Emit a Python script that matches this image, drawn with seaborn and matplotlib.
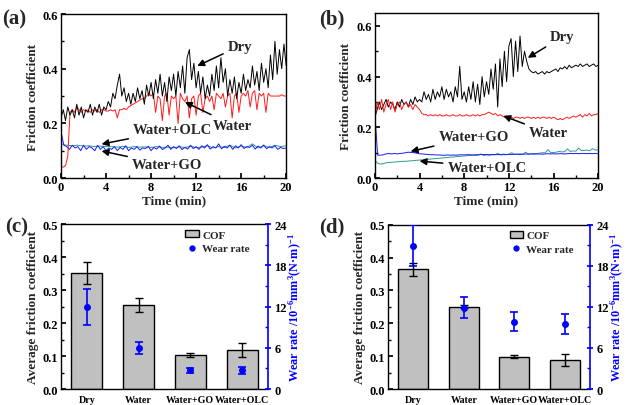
import numpy as np
import pandas as pd
import matplotlib
matplotlib.use("Agg")
import matplotlib.pyplot as plt
import seaborn as sns
from matplotlib.ticker import MultipleLocator, FormatStrFormatter
from matplotlib.patches import Patch
from matplotlib.lines import Line2D

# ---------------- friction traces, panel (a) ----------------
# sampled every 0.2 min
dry_a = [0.22, 0.25, 0.21, 0.26, 0.23, 0.25, 0.22, 0.27, 0.23, 0.26, 0.22, 0.25, 0.24, 0.27, 0.23, 0.26, 0.24, 0.27, 0.23, 0.26, 0.25,
         0.28, 0.26, 0.31, 0.29, 0.34, 0.38, 0.30, 0.33, 0.28, 0.31,
         0.27, 0.31, 0.28, 0.33, 0.29, 0.32, 0.27, 0.34, 0.30, 0.35,
         0.29, 0.36, 0.31, 0.38, 0.30, 0.35, 0.28, 0.37, 0.32, 0.38,
         0.30, 0.39, 0.33, 0.41, 0.31, 0.44, 0.47, 0.36, 0.42, 0.33,
         0.39, 0.31, 0.37, 0.29, 0.34, 0.30, 0.38, 0.32, 0.41, 0.33,
         0.44, 0.35, 0.40, 0.30, 0.36, 0.31, 0.37, 0.29, 0.35, 0.31,
         0.38, 0.32, 0.36, 0.33, 0.41, 0.34, 0.39, 0.32, 0.42, 0.35,
         0.40, 0.33, 0.45, 0.36, 0.50, 0.38, 0.47, 0.40, 0.49, 0.41]
water_a = [0.04, 0.04, 0.045, 0.08, 0.24,
           0.25, 0.24, 0.26, 0.25, 0.24, 0.25, 0.245, 0.25, 0.24, 0.25, 0.245, 0.25, 0.24, 0.25, 0.25, 0.245,
           0.245, 0.25, 0.245, 0.25, 0.22, 0.25, 0.25, 0.255, 0.25, 0.26,
           0.265, 0.27, 0.275, 0.28, 0.285, 0.29, 0.29, 0.30, 0.31, 0.30,
           0.31, 0.24, 0.30, 0.29, 0.21, 0.30, 0.31, 0.23, 0.30, 0.29,
           0.30, 0.20, 0.31, 0.29, 0.28, 0.30, 0.22, 0.29, 0.30, 0.23,
           0.30, 0.31, 0.24, 0.29, 0.30, 0.28, 0.30, 0.25, 0.31, 0.30,
           0.29, 0.31, 0.26, 0.30, 0.31, 0.22, 0.30, 0.31, 0.24, 0.30,
           0.31, 0.30, 0.32, 0.26, 0.31, 0.32, 0.25, 0.31, 0.30, 0.31,
           0.24, 0.31, 0.30, 0.30, 0.30, 0.30, 0.30, 0.305, 0.30, 0.30]
# sampled every 0.25 min
go_a = [0.17, 0.12, 0.115, 0.105, 0.12, 0.11, 0.115, 0.10, 0.12, 0.105, 0.115, 0.11, 0.10, 0.12, 0.105, 0.115, 0.10,
        0.11, 0.105, 0.115, 0.10, 0.112, 0.105, 0.118, 0.10, 0.11, 0.105,
        0.115, 0.102, 0.11, 0.108, 0.116, 0.10, 0.112, 0.106, 0.117, 0.104,
        0.11, 0.12, 0.105, 0.115, 0.108, 0.118, 0.104, 0.112, 0.106, 0.12,
        0.108, 0.115, 0.105, 0.118, 0.11, 0.122, 0.106, 0.115, 0.11, 0.125,
        0.107, 0.116, 0.11, 0.12, 0.105, 0.118, 0.11, 0.122, 0.108, 0.115,
        0.112, 0.12, 0.106, 0.117, 0.11, 0.121, 0.107, 0.115, 0.11, 0.118,
        0.105, 0.112, 0.108, 0.11]
# sampled every 0.5 min
olc_a = [0.125, 0.12, 0.118, 0.12, 0.117, 0.118, 0.115, 0.117, 0.115,
         0.115, 0.113, 0.116, 0.112, 0.115, 0.113, 0.114, 0.112, 0.115, 0.112,
         0.113, 0.111, 0.114, 0.112, 0.116, 0.111, 0.113, 0.118, 0.11, 0.115,
         0.112, 0.12, 0.11, 0.117, 0.112, 0.125, 0.11, 0.118, 0.112, 0.12,
         0.115, 0.118]

# ---------------- friction traces, panel (b) ----------------
dry_b = [0.24, 0.27, 0.30, 0.27, 0.29, 0.31, 0.28, 0.30, 0.29, 0.27, 0.30, 0.28, 0.31, 0.29, 0.30, 0.28, 0.31, 0.29, 0.32, 0.30, 0.31,
         0.30, 0.34, 0.31, 0.33, 0.30, 0.35, 0.31, 0.34, 0.32, 0.36,
         0.31, 0.35, 0.32, 0.34, 0.30, 0.36, 0.32, 0.44, 0.31, 0.34,
         0.30, 0.36, 0.31, 0.38, 0.30, 0.37, 0.29, 0.40, 0.32, 0.38,
         0.33, 0.43, 0.35, 0.45, 0.28, 0.47, 0.36, 0.50, 0.38, 0.52,
         0.55, 0.40, 0.54, 0.42, 0.56, 0.44, 0.50, 0.46, 0.43, 0.42,
         0.415, 0.42, 0.41, 0.415, 0.42, 0.41, 0.42, 0.415, 0.42, 0.425,
         0.43, 0.42, 0.435, 0.43, 0.44, 0.43, 0.445, 0.435, 0.44, 0.445,
         0.44, 0.45, 0.44, 0.445, 0.45, 0.44, 0.445, 0.45, 0.44, 0.445]
water_b = [0.23, 0.30, 0.27, 0.31, 0.26, 0.29, 0.31, 0.27, 0.30, 0.26, 0.29, 0.30, 0.27, 0.29, 0.30, 0.28, 0.29, 0.27, 0.29, 0.28, 0.27,
           0.255, 0.25, 0.25, 0.245, 0.25, 0.245, 0.25, 0.245, 0.25, 0.245,
           0.245, 0.25, 0.245, 0.245, 0.25, 0.245, 0.245, 0.25, 0.245, 0.245,
           0.25, 0.245, 0.245, 0.25, 0.245, 0.25, 0.245, 0.25, 0.25, 0.255,
           0.26, 0.255, 0.25, 0.255, 0.245, 0.25, 0.245, 0.24, 0.245, 0.24,
           0.24, 0.235, 0.24, 0.24, 0.235, 0.24, 0.235, 0.24, 0.24, 0.235,
           0.24, 0.235, 0.24, 0.235, 0.24, 0.24, 0.235, 0.24, 0.235, 0.24,
           0.235, 0.23, 0.235, 0.23, 0.235, 0.24, 0.235, 0.24, 0.245, 0.24,
           0.245, 0.25, 0.24, 0.25, 0.245, 0.255, 0.245, 0.25, 0.25, 0.255]
go_b = [0.25, 0.09, 0.09, 0.092, 0.095, 0.097, 0.095, 0.097, 0.095, 0.097, 0.098, 0.1, 0.102, 0.101, 0.1, 0.098, 0.096,
        0.095, 0.094, 0.093, 0.092, 0.092, 0.091, 0.091, 0.09, 0.09, 0.091,
        0.09, 0.091, 0.09, 0.091, 0.092, 0.091, 0.092, 0.092, 0.091, 0.092,
        0.092, 0.093, 0.092, 0.093, 0.092, 0.093, 0.093, 0.092, 0.093, 0.094,
        0.093, 0.094, 0.093, 0.094, 0.094, 0.093, 0.094, 0.095, 0.094, 0.095,
        0.094, 0.095, 0.095, 0.094, 0.095, 0.096, 0.095, 0.096, 0.095, 0.096,
        0.096, 0.095, 0.096, 0.097, 0.096, 0.097, 0.096, 0.097, 0.097, 0.096,
        0.097, 0.096, 0.097, 0.096]
olc_b = [0.07, 0.058, 0.055, 0.057, 0.06, 0.061, 0.062, 0.063, 0.064, 0.065, 0.066, 0.066, 0.067, 0.068, 0.069, 0.07, 0.071,
         0.072, 0.073, 0.074, 0.075, 0.076, 0.077, 0.078, 0.079, 0.08, 0.081,
         0.082, 0.083, 0.084, 0.085, 0.086, 0.087, 0.088, 0.089, 0.09, 0.089,
         0.09, 0.095, 0.089, 0.091, 0.09, 0.092, 0.091, 0.098, 0.091, 0.092,
         0.092, 0.093, 0.1, 0.093, 0.094, 0.095, 0.094, 0.102, 0.095, 0.096,
         0.097, 0.096, 0.098, 0.1, 0.099, 0.112, 0.1, 0.101, 0.102, 0.105,
         0.103, 0.104, 0.115, 0.105, 0.107, 0.106, 0.118, 0.108, 0.109, 0.11,
         0.108, 0.116, 0.11, 0.112]

# ---------------- averaged results, panels (c) and (d) ----------------
conditions = ["Dry", "Water", "Water+GO", "Water+OLC"]
cof_c = [0.352, 0.255, 0.102, 0.118]
cof_c_err = [0.034, 0.022, 0.006, 0.020]
wear_c = [11.9, 6.0, 2.7, 2.7]
wear_c_err = [2.6, 0.85, 0.4, 0.45]
cof_d = [0.364, 0.250, 0.098, 0.088]
cof_d_err = [0.020, 0.005, 0.005, 0.018]
wear_d = [20.9, 11.9, 9.85, 9.5]
wear_d_err = [3.0, 1.5, 1.35, 1.4]

C_DRY, C_WATER, C_GO, C_OLC = "black", "#ff1a1a", "#1a1aff", "#2e9c88"
BAR_GRAY = "#c0c0c0"

sns.set_theme(style="ticks")
plt.rcParams.update({
    "font.family": ["Liberation Serif", "DejaVu Serif"],
    "font.weight": "bold",
    "axes.labelweight": "bold",
    "mathtext.fontset": "custom",
    "mathtext.rm": "Liberation Serif:bold",
    "mathtext.it": "Liberation Serif:bold:italic",
    "mathtext.bf": "Liberation Serif:bold",
    "mathtext.default": "rm",
    "axes.linewidth": 1.0,
    "axes.edgecolor": "black",
    "xtick.direction": "in",
    "ytick.direction": "in",
    "xtick.color": "black",
    "ytick.color": "black",
    "xtick.major.size": 3.5,
    "ytick.major.size": 3.5,
    "xtick.minor.size": 2,
    "ytick.minor.size": 2,
    "xtick.labelsize": 9,
    "ytick.labelsize": 9,
})

fig = plt.figure(figsize=(6.29, 4.06), dpi=100)
axA = fig.add_axes([0.097, 0.559, 0.358, 0.404])
axB = fig.add_axes([0.596, 0.559, 0.355, 0.406])
axC = fig.add_axes([0.097, 0.0394, 0.329, 0.4064])
axD = fig.add_axes([0.617, 0.0394, 0.321, 0.4048])


def trace(ax, values, color, lw=0.7):
    t = np.linspace(0, 20, len(values))
    sns.lineplot(x=t, y=values, ax=ax, color=color, lw=lw,
                 estimator=None, sort=False, legend=False)


def label_arrow(ax, text, tip, at):
    ax.annotate(text, xy=tip, xytext=at, ha="left", va="center",
                fontsize=10.5, fontweight="bold",
                arrowprops=dict(arrowstyle="-|>", color="black", lw=1.1,
                                mutation_scale=10, shrinkA=1, shrinkB=0))


def time_axes(ax, ymax):
    ax.set_xlim(0, 20)
    ax.set_ylim(0, ymax)
    ax.xaxis.set_major_locator(MultipleLocator(4))
    ax.xaxis.set_minor_locator(MultipleLocator(2))
    ax.yaxis.set_major_locator(MultipleLocator(0.2))
    ax.yaxis.set_minor_locator(MultipleLocator(0.1))
    ax.yaxis.set_major_formatter(FormatStrFormatter("%.1f"))
    ax.tick_params(which="both", top=False, right=False, pad=2)
    ax.set_xlabel("Time (min)", fontsize=9.5, labelpad=1)
    ax.set_ylabel("Friction coefficient", fontsize=9.5, labelpad=3)


# (a)
trace(axA, olc_a, C_OLC)
trace(axA, go_a, C_GO)
trace(axA, water_a, C_WATER)
trace(axA, dry_a, C_DRY)
time_axes(axA, 0.6)
label_arrow(axA, "Dry", (12.1, 0.41), (14.8, 0.483))
label_arrow(axA, "Water", (11.0, 0.278), (13.5, 0.194))
label_arrow(axA, "Water+OLC", (3.6, 0.124), (6.4, 0.176))
label_arrow(axA, "Water+GO", (3.6, 0.099), (6.3, 0.048))

# (b)
trace(axB, dry_b, C_DRY)
trace(axB, water_b, C_WATER)
trace(axB, olc_b, C_OLC)
trace(axB, go_b, C_GO)
time_axes(axB, 0.65)
label_arrow(axB, "Dry", (13.7, 0.474), (15.7, 0.557))
label_arrow(axB, "Water", (11.5, 0.245), (13.8, 0.178))
label_arrow(axB, "Water+GO", (3.2, 0.105), (5.7, 0.162))
label_arrow(axB, "Water+OLC", (4.0, 0.067), (6.5, 0.043))


def bar_panel(ax, cof, cof_err, wear, wear_err):
    df = pd.DataFrame({"condition": conditions, "cof": cof})
    sns.barplot(data=df, x="condition", y="cof", ax=ax, color=BAR_GRAY,
                saturation=1, edgecolor="black", linewidth=1.0, width=0.6,
                errorbar=None)
    pos = np.arange(len(conditions))
    ax.errorbar(pos, cof, yerr=cof_err, fmt="none", ecolor="black",
                elinewidth=1.0, capsize=3, capthick=1.0, zorder=5)
    ax.set_xlim(-0.5, 3.5)
    ax.set_ylim(0, 0.5)
    ax.yaxis.set_major_locator(MultipleLocator(0.1))
    ax.yaxis.set_minor_locator(MultipleLocator(0.05))
    ax.yaxis.set_major_formatter(FormatStrFormatter("%.1f"))
    ax.tick_params(axis="x", length=0, labelsize=7.2, pad=4)
    ax.tick_params(axis="y", which="both", right=False, pad=2)
    ax.set_xlabel("")
    ax.set_ylabel("Average friction coefficient", fontsize=9.5, labelpad=3)
    ax.spines["right"].set_visible(False)
    for lbl in ax.get_xticklabels():
        lbl.set_fontweight("bold")

    ax2 = ax.twinx()
    ax2.errorbar(pos, wear, yerr=wear_err, fmt="o", color="blue", ms=4,
                 ecolor="blue", elinewidth=1.2, capsize=3, capthick=1.2)
    ax2.set_ylim(0, 24)
    ax2.yaxis.set_major_locator(MultipleLocator(6))
    ax2.yaxis.set_minor_locator(MultipleLocator(3))
    ax2.tick_params(axis="y", which="both", colors="blue", labelcolor="black",
                    direction="in", pad=2)
    ax2.tick_params(axis="y", which="major", direction="inout", length=5)
    for side in ("left", "top", "bottom"):
        ax2.spines[side].set_visible(False)
    ax2.spines["right"].set_color("blue")
    ax2.spines["right"].set_linewidth(1.2)
    ax2.set_ylabel("Wear rate /10$^{-6}$mm$^{3}$(N·m)$^{-1}$",
                   color="blue", fontsize=8.8, labelpad=0.5)
    handles = [Patch(facecolor=BAR_GRAY, edgecolor="black", label="COF"),
               Line2D([], [], marker="o", ls="none", color="blue", ms=3.5,
                      label="Wear rate")]
    ax2.legend(handles=handles, loc="upper left", bbox_to_anchor=(0.58, 0.99),
               frameon=False, fontsize=8, handlelength=1.2, handleheight=0.6,
               handletextpad=0.3, labelspacing=0.4, borderaxespad=0)
    return ax2


bar_panel(axC, cof_c, cof_c_err, wear_c, wear_c_err)
bar_panel(axD, cof_d, cof_d_err, wear_d, wear_d_err)

for tag, x, y in (("(a)", 0.004, 0.951), ("(b)", 0.507, 0.953),
                  ("(c)", 0.008, 0.44), ("(d)", 0.507, 0.44)):
    fig.text(x, y, tag, fontsize=15, fontweight="bold", va="center", ha="left")

fig.savefig("out.png", dpi=100)
